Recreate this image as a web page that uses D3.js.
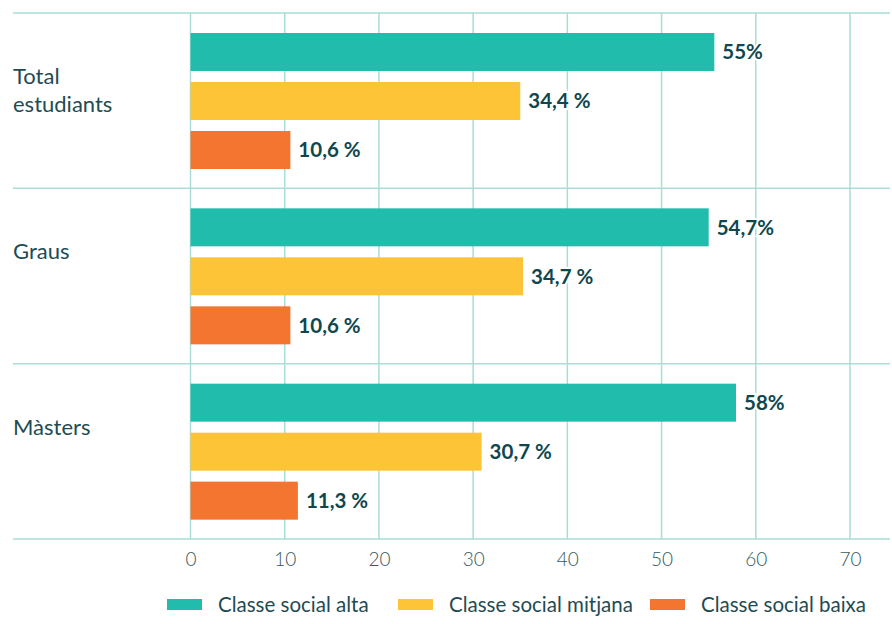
<!DOCTYPE html>
<html>
<head>
<meta charset="utf-8">
<script src="https://cdn.jsdelivr.net/npm/d3@7"></script>
<style>
  body { margin: 0; background: #fff; }
  svg { display: block; font-family: Lato, "Noto Sans", sans-serif; }
</style>
</head>
<body>
<svg id="chart" width="892" height="624"></svg>
<script>
// data
var groups = ["Total estudiants", "Graus", "Màsters"];
var groupLines = [["Total", "estudiants"], ["Graus"], ["Màsters"]];
var series = ["Classe social alta", "Classe social mitjana", "Classe social baixa"];
var altaValues = [55.6, 55.0, 57.9];
var mitjanaValues = [35.0, 35.3, 30.9];
var baixaValues = [10.6, 10.6, 11.4];
var altaLabels = ["55%", "54,7%", "58%"];
var mitjanaLabels = ["34,4 %", "34,7 %", "30,7 %"];
var baixaLabels = ["10,6 %", "10,6 %", "11,3 %"];
var xTicks = [0, 10, 20, 30, 40, 50, 60, 70];

var colors = ["#22bcad", "#fec438", "#f3752f"];
var gridColor = "#a9ddd5";
var darkText = "#0f474d";

var svg = d3.select("#chart");

var x = d3.scaleLinear().domain([0, 70]).range([190.5, 850]);
var y = d3.scaleBand().domain(groups).range([13, 539]);
var yInner = d3.scaleBand().domain(series).range([20, 156]).paddingInner(11 / 49);

// vertical grid
svg.append("g").selectAll("line")
  .data(xTicks)
  .enter().append("line")
  .attr("x1", function(d){ return x(d); })
  .attr("x2", function(d){ return x(d); })
  .attr("y1", 13)
  .attr("y2", 539)
  .attr("stroke", gridColor)
  .attr("stroke-width", 1.5);

// horizontal separators
var seps = groups.map(function(g){ return y(g); }).concat([539]);
svg.append("g").selectAll("line")
  .data(seps)
  .enter().append("line")
  .attr("x1", 13)
  .attr("x2", 890)
  .attr("y1", function(d){ return d; })
  .attr("y2", function(d){ return d; })
  .attr("stroke", gridColor)
  .attr("stroke-width", 1.5);

// x axis labels
var xAxis = d3.axisBottom(x).tickValues(xTicks).tickSize(0).tickPadding(0);
var ax = svg.append("g")
  .attr("transform", "translate(0,552)")
  .call(xAxis);
ax.select(".domain").remove();
ax.selectAll("text")
  .attr("dy", "0.71em")
  .attr("font-family", "Lato, sans-serif")
  .attr("font-weight", 300)
  .attr("font-size", 19)
  .attr("fill", "#36595d");

var rows = [];
groups.forEach(function(g, i){
  rows.push({group: g, s: 0, v: altaValues[i], label: altaLabels[i]});
  rows.push({group: g, s: 1, v: mitjanaValues[i], label: mitjanaLabels[i]});
  rows.push({group: g, s: 2, v: baixaValues[i], label: baixaLabels[i]});
});

function barY(d){ return y(d.group) + yInner(series[d.s]); }

svg.append("g").selectAll("rect")
  .data(rows)
  .enter().append("rect")
  .attr("x", x(0))
  .attr("y", barY)
  .attr("width", function(d){ return x(d.v) - x(0); })
  .attr("height", yInner.bandwidth())
  .attr("fill", function(d){ return colors[d.s]; });

svg.append("g").selectAll("text")
  .data(rows)
  .enter().append("text")
  .attr("x", function(d){ return x(d.v) + 8; })
  .attr("y", function(d){ return barY(d) + yInner.bandwidth() / 2; })
  .attr("dy", "0.36em")
  .attr("font-size", 20.5)
  .attr("font-weight", 700)
  .attr("fill", darkText)
  .attr("stroke", "#fff")
  .attr("stroke-width", 4)
  .attr("paint-order", "stroke")
  .text(function(d){ return d.label; });

// category labels
var cat = svg.append("g").selectAll("text")
  .data(groups)
  .enter().append("text")
  .attr("x", 13)
  .attr("y", function(g){ return y(g) + 71; })
  .attr("font-size", 22)
  .attr("fill", "#1f4b52");
cat.selectAll("tspan")
  .data(function(g, i){ return groupLines[i]; })
  .enter().append("tspan")
  .attr("x", 13)
  .attr("dy", function(d, j){ return j === 0 ? 0 : 28; })
  .text(function(d){ return d; });

// legend
var legendX = [167, 398, 650];
var lg = svg.append("g").selectAll("g")
  .data(series)
  .enter().append("g")
  .attr("transform", function(d, i){ return "translate(" + legendX[i] + ",599)"; });
lg.append("rect")
  .attr("width", 35)
  .attr("height", 11)
  .attr("fill", function(d, i){ return colors[i]; });
lg.append("text")
  .attr("x", 51)
  .attr("y", 13)
  .attr("font-size", 20.5)
  .attr("fill", "#1f4b52")
  .text(function(d){ return d; });
</script>
</body>
</html>
